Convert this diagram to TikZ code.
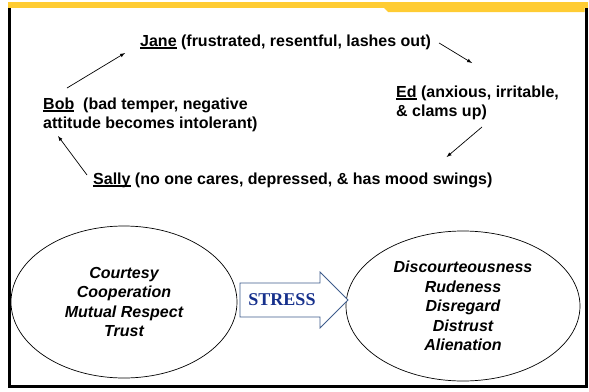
\documentclass[tikz,border=0pt]{standalone}
\usepackage{fontspec}
\setmainfont{Liberation Sans}
\newfontfamily\stressfont{Liberation Serif}
\usepackage{tikz}
\usetikzlibrary{shapes.geometric}
\definecolor{slidegold}{RGB}{255,204,51}
\definecolor{stressblue}{RGB}{22,48,140}
\definecolor{arrowedge}{RGB}{62,92,140}
\newcommand{\nm}[1]{\setbox0\hbox{#1}\rlap{\vrule width\wd0 height -1.4pt depth 2.6pt}\box0\relax}

\begin{document}
\begin{tikzpicture}[
  x=1pt, y=-1pt,
  font=\fontsize{16}{19}\selectfont\bfseries,
  thinarrow/.style={->, >=latex, line width=0.7pt}
]
\tikzset{
    person/.style = {align=left, inner sep=0pt, anchor=base west},
    state/.style = {ellipse, draw=black, line width=0.7pt, align=center, inner sep=0pt,
                    font=\fontsize{16}{19.5}\selectfont\bfseries\itshape}
}
\useasboundingbox (0,0) rectangle (589,391);
\draw[line width=3pt] (9.5,3) rectangle (586,386);
\fill[slidegold] (8,2) rectangle (588,7.5);
\fill[slidegold] (383,7) -- (388,12) -- (584.5,12) -- (584.5,7) -- cycle;

\node[person] (jane) at (140,46) {\nm{Jane} (frustrated, resentful, lashes out)};
\node[person] (bob) at (43,128) {\nm{Bob}~ (bad temper, negative\\attitude becomes intolerant)};
\node[person] (ed) at (396,116) {\nm{Ed} (anxious, irritable,\\\& clams up)};
\node[person] (sally) at (93,184) {\nm{Sally} (no one cares, depressed, \& has mood swings)};

\draw[thinarrow] ([xshift=24pt,yshift=40pt]bob.base west) -- ([xshift=-15pt,yshift=-7pt]jane.base west);
\draw[thinarrow] ([xshift=8pt,yshift=3pt]jane.base east) -- ([xshift=76pt,yshift=53pt]ed.base west);
\draw[thinarrow] ([xshift=86pt,yshift=-11pt]ed.base west) -- ([xshift=-46pt,yshift=27pt]sally.base east);
\draw[thinarrow] ([xshift=-6pt,yshift=9pt]sally.base west) -- ([xshift=15pt,yshift=-8pt]bob.base west);

\node[state, minimum width=226, minimum height=152] (calm) at (124,302) {Courtesy\\Cooperation\\Mutual Respect\\Trust};
\node[state, minimum width=234, minimum height=150] (strain) at (463,306) {Discourteousness\\Rudeness\\Disregard\\Distrust\\Alienation};

\draw[arrowedge, fill=white, line width=0.8pt] (240,283) -- (320,283) -- (320,272) -- (348,300)
    -- (320,328) -- (320,317) -- (240,317) -- cycle;
\node[text=stressblue, font=\fontsize{18}{20}\stressfont\bfseries] (stress) at (282,300) {STRESS};
\end{tikzpicture}
\end{document}
